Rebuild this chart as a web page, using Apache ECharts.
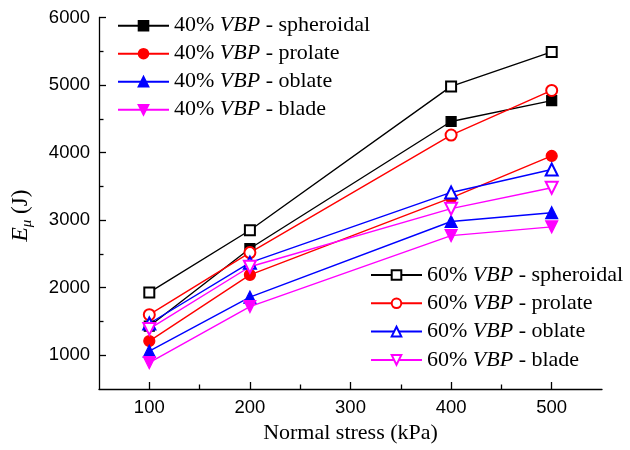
<!DOCTYPE html>
<html>
<head>
<meta charset="utf-8">
<script src="https://cdn.jsdelivr.net/npm/echarts@6/dist/echarts.min.js"></script>
<style>
  html, body { margin: 0; padding: 0; background: #fff; }
  #chart { width: 630px; height: 450px; }
</style>
</head>
<body>
<div id="chart"></div>
<script>
// Normal stress levels (kPa)
const stress = [100, 200, 400, 500];

// Energy E_mu (J) per particle shape, 40% and 60% VBP
const sph40 = [1430, 2580, 4460, 4770];
const pro40 = [1210, 2190, 3330, 3950];
const obl40 = [1060, 1860, 2980, 3110];
const bla40 = [890, 1720, 2770, 2900];
const sph60 = [1930, 2850, 4980, 5490];
const pro60 = [1600, 2520, 4260, 4920];
const obl60 = [1470, 2370, 3410, 3750];
const bla60 = [1390, 2310, 3170, 3480];

// Axis tick labels
const xTicks = [100, 200, 300, 400, 500];
const xMinorTicks = [150, 250, 350, 450];
const yTicks = [1000, 2000, 3000, 4000, 5000, 6000];
const yMinorTicks = [1500, 2500, 3500, 4500, 5500];

const SERIF = '"Liberation Serif", "Times New Roman", serif';
const SANS = '"Liberation Sans", Arial, sans-serif';

function pairs(vals) {
  return stress.map((x, i) => [x, vals[i]]);
}

function mk(name, vals, color, symbol, size, rotate) {
  return {
    name: name,
    type: 'line',
    data: pairs(vals),
    symbol: symbol,
    symbolSize: size,
    symbolRotate: rotate || 0,
    showAllSymbol: true,
    lineStyle: { color: color, width: 1.4 },
    itemStyle: { color: color, borderColor: color, borderWidth: 1.2 },
    emphasis: { disabled: true },
    z: 3
  };
}

const series = [
  mk('40% VBP - spheroidal', sph40, '#000000', 'rect', 10),
  mk('40% VBP - prolate', pro40, '#ff0000', 'circle', 11),
  mk('40% VBP - oblate', obl40, '#0000ff', 'triangle', 12),
  mk('40% VBP - blade', bla40, '#ff00ff', 'triangle', 12, 180),
  mk('60% VBP - spheroidal', sph60, '#000000', 'emptyRect', 10),
  mk('60% VBP - prolate', pro60, '#ff0000', 'emptyCircle', 11),
  mk('60% VBP - oblate', obl60, '#0000ff', 'emptyTriangle', 12),
  mk('60% VBP - blade', bla60, '#ff00ff', 'emptyTriangle', 12, 180)
];

function legendBlock(names, left, top, gap) {
  return {
    data: names,
    orient: 'vertical',
    left: left,
    top: top,
    padding: 0,
    itemWidth: 51,
    itemHeight: 12,
    itemGap: gap,
    selectedMode: false,
    formatter: n => n.replace('VBP', '{i|VBP}'),
    textStyle: {
      fontFamily: SERIF,
      fontSize: 22,
      color: '#000',
      lineHeight: 24,
      rich: {
        i: { fontFamily: SERIF, fontSize: 22, fontStyle: 'italic', color: '#000', lineHeight: 24 }
      }
    }
  };
}

const axisLineStyle = { show: true, lineStyle: { color: '#000', width: 1.3 } };
const plain = v => String(v);

const option = {
  animation: false,
  backgroundColor: '#ffffff',
  grid: { left: 99, right: 28, top: 17.5, bottom: 61, outerBoundsMode: 'none' },
  legend: [
    legendBlock(series.slice(0, 4).map(s => s.name), 117, 13.7, 4),
    legendBlock(series.slice(4).map(s => s.name), 370, 263, 4.3)
  ],
  xAxis: [
    {
      type: 'value', min: 50, max: 550,
      position: 'bottom',
      name: 'Normal stress (kPa)',
      nameLocation: 'middle',
      nameGap: 33,
      nameTextStyle: { fontFamily: SERIF, fontSize: 22, color: '#000' },
      axisLine: axisLineStyle,
      axisTick: { show: true, inside: true, length: 7, customValues: xTicks, lineStyle: { color: '#000', width: 1.3 } },
      axisLabel: { customValues: xTicks, formatter: plain, fontFamily: SANS, fontSize: 18.5, color: '#000', margin: 9 },
      splitLine: { show: false }
    },
    {
      type: 'value', min: 50, max: 550,
      position: 'bottom',
      axisLine: { show: false },
      axisTick: { show: true, inside: true, length: 4.5, customValues: xMinorTicks, lineStyle: { color: '#000', width: 1.3 } },
      axisLabel: { show: false },
      splitLine: { show: false }
    }
  ],
  yAxis: [
    {
      type: 'value', min: 500, max: 6000,
      position: 'left',
      name: '{e|E}{s|μ}{n| (J)}',
      nameLocation: 'middle',
      nameGap: 64,
      nameTextStyle: {
        fontFamily: SERIF, fontSize: 23, color: '#000',
        padding: [0, 25, 0, 0],
        rich: {
          e: { fontFamily: SERIF, fontSize: 24, fontStyle: 'italic', color: '#000', lineHeight: 28, verticalAlign: 'middle' },
          s: { fontFamily: SERIF, fontSize: 15, fontStyle: 'italic', color: '#000', lineHeight: 15, verticalAlign: 'bottom', padding: [9, 0, 0, 0] },
          n: { fontFamily: SERIF, fontSize: 23, color: '#000', lineHeight: 28, verticalAlign: 'middle' }
        }
      },
      axisLine: axisLineStyle,
      axisTick: { show: true, inside: true, length: 7, customValues: yTicks, lineStyle: { color: '#000', width: 1.3 } },
      axisLabel: { customValues: yTicks, formatter: plain, fontFamily: SANS, fontSize: 18.5, color: '#000', margin: 9 },
      splitLine: { show: false }
    },
    {
      type: 'value', min: 500, max: 6000,
      position: 'left',
      axisLine: { show: false },
      axisTick: { show: true, inside: true, length: 4.5, customValues: yMinorTicks, lineStyle: { color: '#000', width: 1.3 } },
      axisLabel: { show: false },
      splitLine: { show: false }
    }
  ],
  series: series
};

const chart = echarts.init(document.getElementById('chart'), null, { renderer: 'canvas' });
chart.setOption(option);
</script>
</body>
</html>
